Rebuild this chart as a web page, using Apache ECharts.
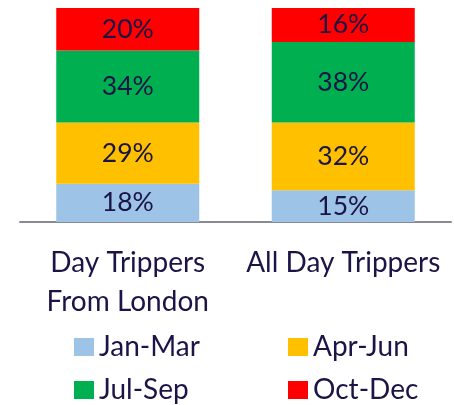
<!DOCTYPE html>
<html>
<head>
<meta charset="utf-8">
<script src="https://cdn.jsdelivr.net/npm/echarts@6/dist/echarts.min.js"></script>
<style>
  html, body { margin: 0; padding: 0; background: #fff; }
  #main { width: 454px; height: 405px; }
</style>
</head>
<body>
<div id="main"></div>
<script>
var categories = ['Day Trippers\nFrom London', 'All Day Trippers'];
var janMar = [18, 15];
var aprJun = [29, 32];
var julSep = [34, 38];
var octDec = [20, 16];

var textColor = '#1b1446';
var fontFamily = 'Lato, "Open Sans", sans-serif';

var chart = echarts.init(document.getElementById('main'));

function makeSeries(name, data, color) {
    return {
        name: name,
        type: 'bar',
        stack: 'total',
        barWidth: 143,
        data: data,
        itemStyle: { color: color },
        label: {
            show: true,
            position: 'inside',
            formatter: '{c}%',
            color: textColor,
            fontSize: 26.5,
            fontFamily: fontFamily
        }
    };
}

// two vertical legends so the columns line up
function makeLegend(names, left) {
    return {
        data: names,
        orient: 'vertical',
        left: left,
        top: 332,
        height: 80,
        padding: 0,
        itemWidth: 20,
        itemHeight: 18,
        itemGap: 13,
        icon: 'rect',
        textStyle: { color: textColor, fontSize: 28, lineHeight: 30, fontFamily: fontFamily }
    };
}

var option = {
    backgroundColor: '#ffffff',
    animation: false,
    grid: {
        left: 20,
        right: 3,
        top: 8,
        bottom: 183
    },
    legend: [
        makeLegend(['Jan-Mar', 'Jul-Sep'], 74),
        makeLegend(['Apr-Jun', 'Oct-Dec'], 288)
    ],
    xAxis: {
        type: 'category',
        data: categories,
        axisLine: { lineStyle: { color: '#8a8a96', width: 2 } },
        axisTick: { show: false },
        axisLabel: {
            color: textColor,
            fontSize: 28,
            fontFamily: fontFamily,
            lineHeight: 39,
            margin: 21,
            interval: 0
        }
    },
    yAxis: {
        type: 'value',
        min: 0,
        max: 101,
        show: false,
        splitLine: { show: false }
    },
    series: [
        makeSeries('Jan-Mar', janMar, '#9dc3e6'),
        makeSeries('Apr-Jun', aprJun, '#ffc000'),
        makeSeries('Jul-Sep', julSep, '#00b050'),
        makeSeries('Oct-Dec', octDec, '#ff0000')
    ]
};

chart.setOption(option);
</script>
</body>
</html>
